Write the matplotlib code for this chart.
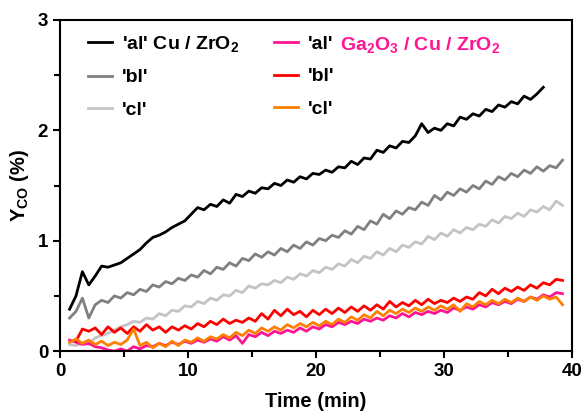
import numpy as np
import matplotlib
matplotlib.use("Agg")
import matplotlib.pyplot as plt
from matplotlib.ticker import MultipleLocator

plt.rcParams["font.family"] = ["Liberation Sans", "DejaVu Sans"]
plt.rcParams["font.weight"] = "bold"
plt.rcParams["mathtext.fontset"] = "custom"
plt.rcParams["mathtext.rm"] = "Liberation Sans:bold"
plt.rcParams["mathtext.bf"] = "Liberation Sans:bold"
plt.rcParams["mathtext.default"] = "bf"

time = [0.75, 1.25, 1.75, 2.25, 2.75, 3.25, 3.75, 4.25, 4.75, 5.25,
        5.75, 6.25, 6.75, 7.25, 7.75, 8.25, 8.75, 9.25, 9.75, 10.25,
        10.75, 11.25, 11.75, 12.25, 12.75, 13.25, 13.75, 14.25, 14.75, 15.25,
        15.75, 16.25, 16.75, 17.25, 17.75, 18.25, 18.75, 19.25, 19.75, 20.25,
        20.75, 21.25, 21.75, 22.25, 22.75, 23.25, 23.75, 24.25, 24.75, 25.25,
        25.75, 26.25, 26.75, 27.25, 27.75, 28.25, 28.75, 29.25, 29.75, 30.25,
        30.75, 31.25, 31.75, 32.25, 32.75, 33.25, 33.75, 34.25, 34.75, 35.25,
        35.75, 36.25, 36.75, 37.25, 37.75, 38.25, 38.75, 39.25]

# Cu/ZrO2 (ends at ~38 min)
cu_a = [0.38, 0.50, 0.72, 0.60, 0.68, 0.77, 0.76, 0.78, 0.80, 0.84,
        0.88, 0.92, 0.98, 1.03, 1.05, 1.08, 1.12, 1.15, 1.18, 1.24,
        1.30, 1.28, 1.33, 1.31, 1.37, 1.34, 1.42, 1.40, 1.45, 1.43,
        1.48, 1.47, 1.52, 1.50, 1.55, 1.53, 1.58, 1.56, 1.61, 1.60,
        1.64, 1.62, 1.67, 1.66, 1.72, 1.69, 1.75, 1.74, 1.82, 1.80,
        1.86, 1.84, 1.90, 1.89, 1.95, 2.06, 1.98, 2.02, 2.00, 2.06,
        2.04, 2.12, 2.10, 2.15, 2.13, 2.19, 2.17, 2.23, 2.21, 2.26,
        2.24, 2.31, 2.28, 2.33, 2.39]
cu_b = [0.30, 0.36, 0.48, 0.30, 0.42, 0.46, 0.44, 0.50, 0.48, 0.53,
        0.51, 0.56, 0.54, 0.60, 0.58, 0.63, 0.61, 0.66, 0.64, 0.69,
        0.67, 0.73, 0.70, 0.76, 0.74, 0.80, 0.77, 0.84, 0.82, 0.88,
        0.85, 0.90, 0.87, 0.93, 0.90, 0.96, 0.93, 0.99, 0.96, 1.02,
        1.00, 1.05, 1.03, 1.09, 1.06, 1.13, 1.10, 1.18, 1.15, 1.24,
        1.20, 1.27, 1.24, 1.30, 1.28, 1.35, 1.32, 1.41, 1.37, 1.44,
        1.41, 1.47, 1.44, 1.50, 1.47, 1.54, 1.51, 1.58, 1.55, 1.61,
        1.58, 1.64, 1.61, 1.67, 1.63, 1.68, 1.66, 1.73]
cu_c = [0.06, 0.05, 0.08, 0.06, 0.12, 0.14, 0.16, 0.19, 0.22, 0.24,
        0.27, 0.26, 0.30, 0.29, 0.34, 0.32, 0.37, 0.36, 0.41, 0.40,
        0.45, 0.43, 0.48, 0.46, 0.51, 0.50, 0.55, 0.53, 0.59, 0.57,
        0.61, 0.60, 0.64, 0.62, 0.67, 0.65, 0.70, 0.68, 0.73, 0.71,
        0.76, 0.74, 0.79, 0.77, 0.83, 0.80, 0.86, 0.84, 0.90, 0.87,
        0.93, 0.90, 0.96, 0.94, 0.99, 0.97, 1.04, 1.01, 1.07, 1.04,
        1.10, 1.07, 1.12, 1.10, 1.15, 1.13, 1.19, 1.16, 1.22, 1.20,
        1.25, 1.22, 1.28, 1.26, 1.31, 1.28, 1.36, 1.32]

# Ga2O3/Cu/ZrO2
ga_a = [0.10, 0.08, 0.06, 0.07, 0.04, 0.03, 0.01, 0.00, 0.02, 0.00,
        0.04, 0.02, 0.05, 0.04, 0.07, 0.05, 0.08, 0.06, 0.09, 0.07,
        0.10, 0.08, 0.11, 0.09, 0.13, 0.10, 0.14, 0.07, 0.15, 0.13,
        0.17, 0.14, 0.18, 0.16, 0.19, 0.17, 0.21, 0.18, 0.22, 0.20,
        0.24, 0.22, 0.26, 0.24, 0.27, 0.25, 0.29, 0.27, 0.30, 0.28,
        0.32, 0.30, 0.34, 0.31, 0.35, 0.33, 0.36, 0.34, 0.37, 0.35,
        0.39, 0.37, 0.40, 0.38, 0.42, 0.40, 0.44, 0.42, 0.45, 0.43,
        0.47, 0.45, 0.49, 0.47, 0.51, 0.49, 0.53, 0.52]
ga_b = [np.nan, 0.09, 0.20, 0.18, 0.21, 0.15, 0.22, 0.17, 0.21, 0.16,
        0.22, 0.18, 0.24, 0.19, 0.22, 0.17, 0.22, 0.19, 0.23, 0.20,
        0.25, 0.22, 0.27, 0.24, 0.29, 0.25, 0.28, 0.26, 0.30, 0.27,
        0.34, 0.29, 0.37, 0.32, 0.38, 0.33, 0.36, 0.31, 0.37, 0.33,
        0.38, 0.34, 0.39, 0.35, 0.40, 0.36, 0.41, 0.37, 0.42, 0.38,
        0.45, 0.40, 0.44, 0.41, 0.46, 0.42, 0.47, 0.43, 0.46, 0.44,
        0.48, 0.45, 0.49, 0.47, 0.53, 0.50, 0.56, 0.52, 0.57, 0.54,
        0.58, 0.55, 0.60, 0.57, 0.62, 0.60, 0.65, 0.64]
ga_c = [0.08, 0.11, 0.07, 0.10, 0.06, 0.09, 0.05, 0.08, 0.06, 0.10,
        0.20, 0.05, 0.08, 0.03, 0.07, 0.04, 0.09, 0.05, 0.10, 0.08,
        0.12, 0.09, 0.13, 0.11, 0.15, 0.12, 0.17, 0.14, 0.19, 0.16,
        0.21, 0.18, 0.22, 0.19, 0.24, 0.21, 0.25, 0.22, 0.26, 0.23,
        0.27, 0.24, 0.29, 0.26, 0.31, 0.28, 0.33, 0.30, 0.36, 0.32,
        0.37, 0.34, 0.38, 0.35, 0.39, 0.36, 0.40, 0.37, 0.41, 0.38,
        0.42, 0.36, 0.43, 0.40, 0.45, 0.42, 0.46, 0.43, 0.47, 0.44,
        0.48, 0.45, 0.49, 0.46, 0.50, 0.47, 0.49, 0.42]

fig = plt.figure(figsize=(5.88, 4.16), dpi=100)
ax = fig.add_axes([0.102, 0.156, 0.871, 0.796])

lw = 2.0
ax.plot(time[:len(cu_a)], cu_a, color="#000000", lw=lw, label="'al' Cu / ZrO$_2$")
ax.plot(time, cu_b, color="#808080", lw=lw, label="'bl'")
ax.plot(time, cu_c, color="#c4c4c4", lw=lw, label="'cl'")
ax.plot(time, ga_a, color="#ff1493", lw=lw, label="'al'")
ax.plot(time, ga_b, color="#ff0000", lw=lw, label="'bl'")
ax.plot(time, ga_c, color="#ff8000", lw=lw, label="'cl'")

ax.set_xlim(0, 40)
ax.set_ylim(0, 3)
ax.xaxis.set_major_locator(MultipleLocator(10))
ax.xaxis.set_minor_locator(MultipleLocator(5))
ax.yaxis.set_major_locator(MultipleLocator(1))
ax.yaxis.set_minor_locator(MultipleLocator(0.5))
ax.tick_params(which="both", direction="out", width=1.5, labelsize=13.5)
ax.tick_params(which="major", length=5)
ax.tick_params(which="minor", length=4)
for s in ax.spines.values():
    s.set_linewidth(1.5)

ax.set_xlabel("Time (min)", fontsize=14.5, fontweight="bold", labelpad=9)
ax.set_ylabel("Y$_{CO}$ (%)", fontsize=14.5, fontweight="bold", labelpad=5)

leg = ax.legend(ncol=2, frameon=False, loc="upper left", bbox_to_anchor=(0.021, 1.01),
                fontsize=14, handlelength=1.2, handletextpad=0.55,
                columnspacing=1.8, labelspacing=0.75)

fig.canvas.draw()
t_al = leg.get_texts()[3]
bb = t_al.get_window_extent()
x0, y0 = fig.transFigure.inverted().transform((bb.x1 + 6, (bb.y0 + bb.y1) / 2))
fig.text(x0, y0, "Ga$_2$O$_3$ / Cu / ZrO$_2$", color="#ff1493", fontsize=14,
         fontweight="bold", va="center", ha="left")

fig.savefig("out.png", dpi=100)
